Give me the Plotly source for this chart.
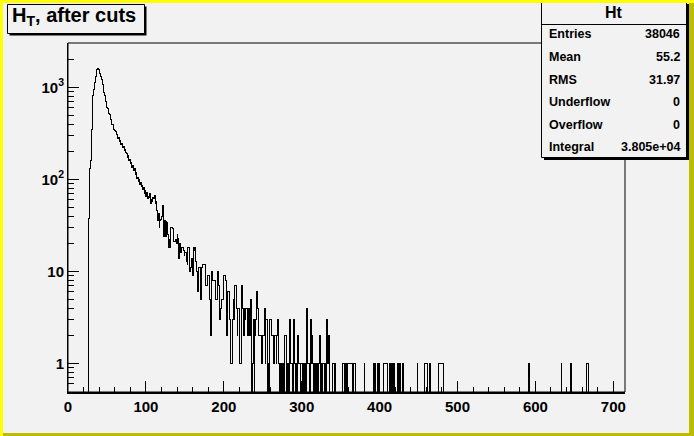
import plotly.graph_objects as go

# ---------------- data ----------------
hist_name = "Ht"
title_text = "H<sub>T</sub>, after cuts"
x_low = 0.0
x_high = 715.0

# bin contents, one value per 1-unit bin from x_low to x_high
counts = [
    0, 0, 0, 0, 0, 0, 0, 0, 0, 0, 0, 0, 0, 0, 0, 0, 0, 0, 0, 0,                      # 0
    0, 0, 0, 0, 0, 0, 38, 55, 130, 160, 350, 400, 820, 940, 1130, 1300, 1440, 1570, 1620, 1560,  # 20
    1460, 1400, 1300, 1230, 1080, 950, 870, 810, 700, 665, 600, 590, 520, 505, 455, 445, 400, 392, 370, 352,  # 40
    336, 330, 305, 301, 276, 284, 258, 262, 242, 246, 222, 230, 207, 212, 196, 190, 172, 181, 160, 166,  # 60
    150, 153, 136, 140, 124, 131, 113, 118, 103, 106, 95, 99, 88, 92, 84, 86, 78, 81, 71, 75,  # 80
    66, 72, 62, 66, 64, 70, 55, 60, 58, 63, 62, 67, 55, 57, 46, 36, 43, 30, 36, 37,  # 100
    40, 52, 32, 24, 36, 24, 35, 34, 25, 18, 22, 18, 30, 30, 29, 28, 21, 21, 22, 20,  # 120
    25, 23, 14, 20, 17, 16, 18, 18, 17, 15, 16, 16, 13, 12, 18, 18, 10, 11, 14, 14,  # 140
    9, 18, 17, 18, 13, 10, 6, 11, 11, 11, 5, 10, 11, 12, 12, 12, 7, 7, 7, 9,  # 160
    9, 5, 5, 2, 10, 10, 8, 8, 8, 5, 5, 5, 10, 7, 4, 3, 4, 5, 5, 5,  # 180
    9, 9, 8, 6, 2, 6, 6, 3, 3, 1, 1, 3, 5, 3, 7, 7, 4, 2, 4, 4,  # 200
    1, 1, 1, 7, 4, 2, 4, 3, 4, 4, 3, 2, 4, 2, 5, 1, 0, 1, 3, 0,  # 220
    2, 3, 6, 4, 2, 2, 2, 2, 2, 1, 2, 2, 4, 1, 3, 3, 0, 1, 0, 3,  # 240
    3, 2, 2, 2, 1, 2, 2, 1, 2, 3, 1, 1, 0, 1, 0, 1, 1, 0, 2, 2,  # 260
    1, 0, 1, 0, 3, 3, 1, 1, 0, 1, 3, 1, 0, 1, 0, 2, 1, 1, 0, 1,  # 280
    1, 0, 1, 0, 1, 0, 4, 4, 1, 1, 0, 3, 1, 2, 1, 0, 1, 1, 0, 1,  # 300
    0, 1, 1, 2, 0, 1, 0, 1, 1, 0, 1, 0, 3, 1, 2, 2, 0, 0, 0, 0,  # 320
    1, 1, 0, 1, 0, 0, 0, 0, 0, 0, 0, 0, 0, 1, 1, 0, 1, 1, 0, 1,  # 340
    1, 1, 1, 1, 1, 0, 1, 1, 1, 0, 0, 0, 0, 0, 0, 0, 0, 0, 0, 0,  # 360
    1, 0, 0, 0, 0, 0, 0, 0, 0, 0, 0, 0, 1, 0, 1, 0, 0, 1, 0, 1,  # 380
    0, 0, 0, 0, 0, 1, 1, 1, 1, 1, 0, 0, 0, 1, 0, 1, 0, 0, 1, 0,  # 400
    0, 0, 0, 1, 0, 0, 1, 0, 0, 0, 1, 0, 0, 0, 0, 0, 0, 0, 0, 0,  # 420
    0, 0, 0, 0, 0, 0, 0, 0, 1, 0, 0, 0, 0, 0, 0, 0, 0, 0, 1, 1,  # 440
    1, 0, 0, 0, 1, 0, 0, 0, 0, 0, 0, 0, 0, 0, 0, 0, 1, 1, 1, 1,  # 460
    1, 1, 0, 0, 0, 0, 0, 0, 0, 0, 0, 0, 0, 0, 0, 0, 0, 0, 0, 0,  # 480
    0, 0, 0, 0, 0, 0, 0, 0, 0, 0, 0, 0, 0, 0, 0, 0, 0, 0, 0, 0,  # 500
    0, 0, 0, 0, 0, 0, 0, 0, 0, 0, 0, 0, 0, 0, 0, 0, 0, 0, 0, 0,  # 520
    0, 0, 0, 0, 0, 0, 0, 0, 0, 0, 0, 0, 0, 0, 0, 0, 0, 0, 0, 0,  # 540
    0, 0, 0, 0, 0, 0, 0, 0, 0, 0, 0, 0, 0, 0, 0, 0, 0, 0, 0, 0,  # 560
    0, 0, 0, 0, 0, 0, 0, 0, 0, 0, 0, 1, 1, 0, 0, 0, 0, 0, 0, 0,  # 580
    0, 0, 0, 0, 0, 0, 0, 0, 0, 0, 0, 0, 0, 0, 0, 0, 0, 0, 0, 0,  # 600
    0, 0, 0, 0, 0, 0, 0, 0, 0, 0, 0, 0, 0, 1, 0, 0, 0, 0, 0, 0,  # 620
    0, 0, 0, 0, 0, 1, 0, 0, 0, 0, 0, 0, 0, 0, 0, 0, 0, 0, 0, 0,  # 640
    0, 0, 0, 0, 0, 0, 1, 1, 0, 0, 0, 0, 0, 0, 0, 0, 0, 0, 0, 0,  # 660
    0, 0, 0, 0, 0, 0, 0, 0, 0, 0, 0, 0, 0, 0, 0, 0, 0, 0, 0, 0,  # 680
    0, 0, 0, 0, 0, 0, 0, 0, 0, 0, 0, 0, 0, 0, 0,                 # 700
]

x_tick_vals = [0, 100, 200, 300, 400, 500, 600, 700]
x_tick_text = ["0", "100", "200", "300", "400", "500", "600", "700"]
y_tick_vals = [1, 10, 100, 1000]
y_tick_text = ["1", "10", "10<sup>2</sup>", "10<sup>3</sup>"]
y_minor_vals = [0.5, 0.6, 0.7, 0.8, 0.9, 2, 3, 4, 5, 6, 7, 8, 9,
                20, 30, 40, 50, 60, 70, 80, 90, 200, 300, 400, 500, 600, 700, 800, 900,
                2000, 3000]
y_log_range = [-0.309, 3.482]

stat_names = ["Entries", "Mean", "RMS", "Underflow", "Overflow", "Integral"]
stat_values = ["38046", "55.2", "31.97", "0", "0", "3.805e+04"]

# ---------------- geometry / style ----------------
W, H = 694, 436
ML, MR, MT, MB = 68, 69, 43, 44
PW, PH = W - ML - MR, H - MT - MB
BG = "#f2f2f2"
FONT = "Liberation Sans"


def X(px):
    return (px - ML) / PW


def Y(py):
    return (H - MB - py) / PH


n = len(counts)
bw = (x_high - x_low) / n
edges = [x_low + i * bw for i in range(n + 1)]
y_draw = [c if c > 0 else 1e-3 for c in counts]
y_draw.append(y_draw[-1])

fig = go.Figure()
fig.add_trace(go.Scatter(x=edges, y=y_draw, mode="lines",
                         line=dict(color="black", width=1, shape="hv"),
                         hoverinfo="skip", showlegend=False))

shapes = []
# frame box
shapes.append(dict(type="rect", xref="paper", yref="paper", x0=0, x1=1, y0=0, y1=1,
                   line=dict(color="black", width=1), fillcolor="rgba(0,0,0,0)", layer="above"))
# title box with shadow
shapes.append(dict(type="rect", xref="paper", yref="paper", x0=X(9.5), x1=X(146.5), y0=Y(35.5), y1=Y(6.5),
                   line=dict(width=0), fillcolor="black", layer="above"))
shapes.append(dict(type="rect", xref="paper", yref="paper", x0=X(7.5), x1=X(144.5), y0=Y(33.5), y1=Y(4.5),
                   line=dict(color="black", width=1), fillcolor=BG, layer="above"))
# stats box with shadow
shapes.append(dict(type="rect", xref="paper", yref="paper", x0=X(544), x1=X(689), y0=Y(160), y1=Y(4),
                   line=dict(width=0), fillcolor="black", layer="above"))
shapes.append(dict(type="rect", xref="paper", yref="paper", x0=X(541.5), x1=X(686.5), y0=Y(157.5), y1=Y(1.5),
                   line=dict(color="black", width=1), fillcolor=BG, layer="above"))
shapes.append(dict(type="line", xref="paper", yref="paper", x0=X(541.5), x1=X(686.5), y0=Y(24.5), y1=Y(24.5),
                   line=dict(color="black", width=1), layer="above"))
# canvas border (bevel)
shapes.append(dict(type="rect", xref="paper", yref="paper", x0=X(0), x1=X(694), y0=Y(3), y1=Y(0),
                   line=dict(width=0), fillcolor="#ffff00", layer="above"))
shapes.append(dict(type="rect", xref="paper", yref="paper", x0=X(0), x1=X(3), y0=Y(436), y1=Y(0),
                   line=dict(width=0), fillcolor="#ffff00", layer="above"))
shapes.append(dict(type="rect", xref="paper", yref="paper", x0=X(3), x1=X(694), y0=Y(436), y1=Y(433),
                   line=dict(width=0), fillcolor="#bcbc00", layer="above"))
shapes.append(dict(type="rect", xref="paper", yref="paper", x0=X(689), x1=X(694), y0=Y(436), y1=Y(3),
                   line=dict(width=0), fillcolor="#bcbc00", layer="above"))

annotations = []
annotations.append(dict(xref="paper", yref="paper", x=X(10), y=Y(17), xanchor="left", yanchor="middle",
                        text="<b>" + title_text + "</b>", showarrow=False,
                        font=dict(family=FONT, size=20, color="black")))
annotations.append(dict(xref="paper", yref="paper", x=X(614), y=Y(12.5), xanchor="center", yanchor="middle",
                        text="<b>" + hist_name + "</b>", showarrow=False,
                        font=dict(family=FONT, size=16, color="black")))
row_y = [34, 57, 80, 102, 125, 147]
for name, val, ry in zip(stat_names, stat_values, row_y):
    annotations.append(dict(xref="paper", yref="paper", x=X(547), y=Y(ry), xanchor="left", yanchor="middle",
                            text="<b>" + name + "</b>", showarrow=False,
                            font=dict(family=FONT, size=12.5, color="black")))
    annotations.append(dict(xref="paper", yref="paper", x=X(682), y=Y(ry), xanchor="right", yanchor="middle",
                            text="<b>" + val + "</b>", showarrow=False,
                            font=dict(family=FONT, size=12.5, color="black")))

fig.update_layout(
    width=W, height=H,
    margin=dict(l=ML, r=MR, t=MT, b=MB, pad=0),
    paper_bgcolor=BG, plot_bgcolor=BG,
    showlegend=False,
    shapes=shapes,
    annotations=annotations,
    xaxis=dict(range=[x_low, x_high], showgrid=False, zeroline=False,
               showline=True, linecolor="black", linewidth=2, mirror=False,
               ticks="inside", ticklen=11, tickwidth=1, tickcolor="black",
               tickmode="array", tickvals=x_tick_vals, ticktext=x_tick_text,
               tickfont=dict(family=FONT, size=15, color="black", weight="bold"),
               minor=dict(ticks="inside", ticklen=5.5, tickwidth=1, tickcolor="black",
                          dtick=20, tick0=0, showgrid=False)),
    yaxis=dict(type="log", range=y_log_range, showgrid=False, zeroline=False,
               showline=True, linecolor="black", linewidth=1, mirror=False,
               ticks="inside", ticklen=11, tickwidth=1, tickcolor="black",
               tickmode="array", tickvals=y_tick_vals, ticktext=y_tick_text,
               tickfont=dict(family=FONT, size=15, color="black", weight="bold"),
               minor=dict(ticks="inside", ticklen=5.5, tickwidth=1, tickcolor="black",
                          tickmode="array", tickvals=y_minor_vals, showgrid=False)),
)

fig.write_html(
    "out.html",
    config={"displayModeBar": False, "staticPlot": True},
    post_script=(
        "document.body.style.margin='0px';document.body.style.overflow='hidden';"
        "document.querySelectorAll('.scatterlayer path.js-line').forEach(function(p){"
        "p.style.shapeRendering='crispEdges';});"
    ),
)
